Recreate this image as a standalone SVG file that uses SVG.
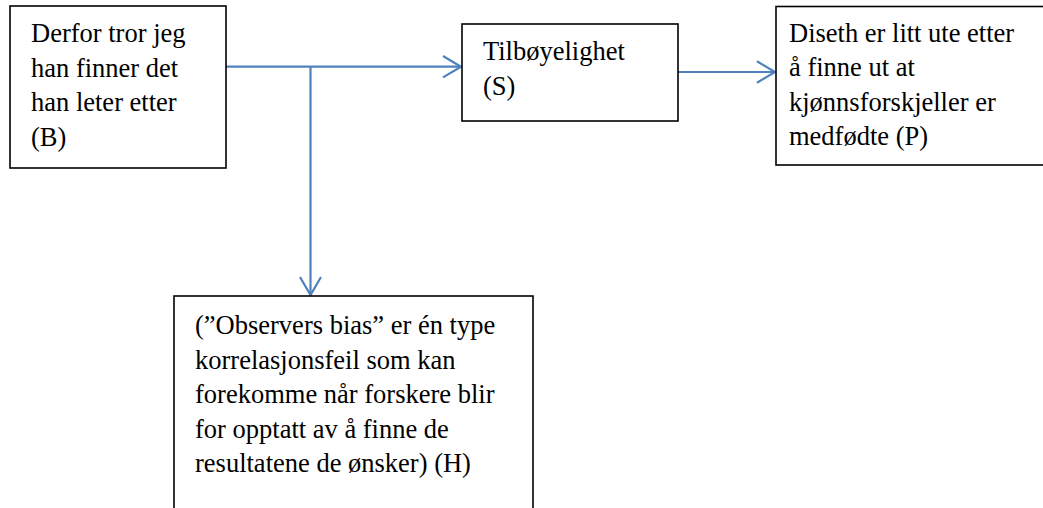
<svg xmlns="http://www.w3.org/2000/svg" width="1043" height="508" viewBox="0 0 1043 508" font-family="Liberation Serif, Times New Roman, serif" font-size="26.5">
<style>
.box{fill:#fff;stroke:#000;stroke-width:1.6}
.c{fill:none;stroke:#4F81BD;stroke-width:2.2;stroke-linejoin:miter}
</style>
<rect width="1043" height="508" fill="#fff"/>
<g id="connectors">
<path class="c" d="M226 66.7H460"/>
<path class="c" d="M443 56L461 66.7L443 77.4"/>
<path class="c" d="M310.5 66.7V294"/>
<path class="c" d="M300 277L310.5 295L321 277"/>
<path class="c" d="M678 72H775"/>
<path class="c" d="M757 61.3L775 72L757 82.7"/>
</g>
<g id="node-B">
<rect class="box" x="10" y="6" width="216" height="162"/>
<text x="31" y="42">Derfor tror jeg</text>
<text x="31" y="76.5">han finner det</text>
<text x="31" y="111">han leter etter</text>
<text x="31" y="145.5">(B)</text>
</g>
<g id="node-S">
<rect class="box" x="462" y="24" width="216" height="97"/>
<text x="483" y="60">Tilbøyelighet</text>
<text x="483" y="94.5">(S)</text>
</g>
<g id="node-P">
<rect class="box" x="776" y="6.5" width="280" height="158.5"/>
<text x="789" y="41.5">Diseth er litt ute etter</text>
<text x="789" y="76">å finne ut at</text>
<text x="789" y="110.5">kjønnsforskjeller er</text>
<text x="789" y="145">medfødte (P)</text>
</g>
<g id="node-H">
<rect class="box" x="174" y="296" width="359" height="230"/>
<text x="195" y="334">(”Observers bias” er én type</text>
<text x="195" y="368.5">korrelasjonsfeil som kan</text>
<text x="195" y="403">forekomme når forskere blir</text>
<text x="195" y="437.5">for opptatt av å finne de</text>
<text x="195" y="472">resultatene de ønsker) (H)</text>
</g>
</svg>
